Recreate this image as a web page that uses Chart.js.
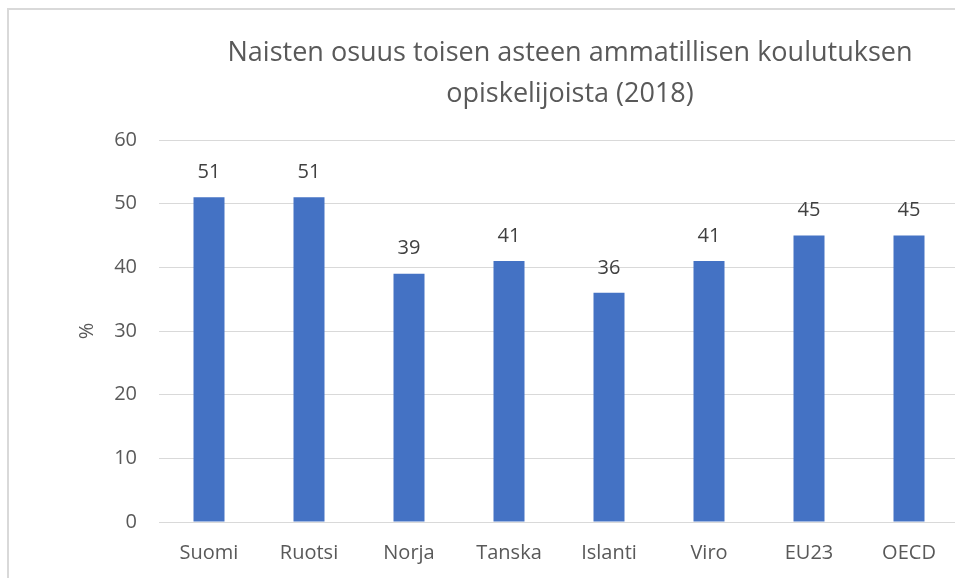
<!DOCTYPE html>
<html>
<head>
<meta charset="utf-8">
<script src="https://cdn.jsdelivr.net/npm/chart.js@4.4.0/dist/chart.umd.min.js"></script>
<style>
  html, body { margin: 0; padding: 0; background: #fff; overflow: hidden; }
  #wrap { position: relative; width: 955px; height: 578px; overflow: hidden; }
  #frame { position: absolute; left: 7px; top: 8px; width: 1000px; height: 700px;
           border-left: 2px solid #d9d9d9; border-top: 2px solid #d9d9d9; }
  #chartCanvas { position: absolute; left: 0; top: 0; }
</style>
</head>
<body>
<div id="wrap">
  <div id="frame"></div>
  <canvas id="chartCanvas" width="965" height="578"></canvas>
</div>
<script>
const titleLines = ['Naisten osuus toisen asteen ammatillisen koulutuksen', 'opiskelijoista (2018)'];
const countries = ['Suomi', 'Ruotsi', 'Norja', 'Tanska', 'Islanti', 'Viro', 'EU23', 'OECD'];
const womenShare = [51, 51, 39, 41, 36, 41, 45, 45];
const yTicks = [0, 10, 20, 30, 40, 50, 60];
const yLabel = '%';

const fontFamily = '"Open Sans", sans-serif';
const textGrey = '#595959';

// title drawn at fixed place, centred above the plot
const titlePlugin = {
    id: 'twoLineTitle',
    afterDraw(chart) {
        const ctx = chart.ctx;
        ctx.save();
        ctx.font = '27px ' + fontFamily;
        ctx.fillStyle = textGrey;
        ctx.textAlign = 'center';
        ctx.textBaseline = 'middle';
        titleLines.forEach((line, i) => ctx.fillText(line, 570, 53 + i * 41));
        ctx.restore();
    }
};

// value labels above bars
const valueLabels = {
    id: 'valueLabels',
    afterDatasetsDraw(chart) {
        const ctx = chart.ctx;
        const meta = chart.getDatasetMeta(0);
        ctx.save();
        ctx.font = '20px ' + fontFamily;
        ctx.fillStyle = '#404040';
        ctx.textAlign = 'center';
        ctx.textBaseline = 'middle';
        meta.data.forEach((bar, i) => {
            ctx.fillText(String(womenShare[i]), bar.x, bar.y - 25);
        });
        ctx.restore();
    }
};

const ctx = document.getElementById('chartCanvas').getContext('2d');
new Chart(ctx, {
    type: 'bar',
    data: {
        labels: countries,
        datasets: [{
            data: womenShare,
            backgroundColor: '#4472C4',
            barPercentage: 0.31,
            categoryPercentage: 1.0
        }]
    },
    options: {
        responsive: false,
        animation: false,
        layout: { padding: { top: 140, right: 6, bottom: 0, left: 75 } },
        plugins: {
            legend: { display: false },
            tooltip: { enabled: false },
            title: { display: false }
        },
        scales: {
            x: {
                grid: { display: false },
                border: { color: '#d9d9d9', width: 1 },
                ticks: { color: textGrey, font: { family: fontFamily, size: 20 }, padding: 11, maxRotation: 0 },
                afterFit(scale) { scale.height = 56; }
            },
            y: {
                min: 0,
                max: 60,
                afterBuildTicks(scale) { scale.ticks = yTicks.map(v => ({ value: v })); },
                grid: { color: '#d9d9d9', drawTicks: false },
                border: { display: false },
                ticks: { color: textGrey, font: { family: fontFamily, size: 20 }, padding: 22 },
                title: { display: true, text: yLabel, color: textGrey, font: { family: fontFamily, size: 20 }, padding: { top: 0, bottom: 0 } },
                afterFit(scale) { scale.width = 84; }
            }
        }
    },
    plugins: [titlePlugin, valueLabels]
});
</script>
</body>
</html>
